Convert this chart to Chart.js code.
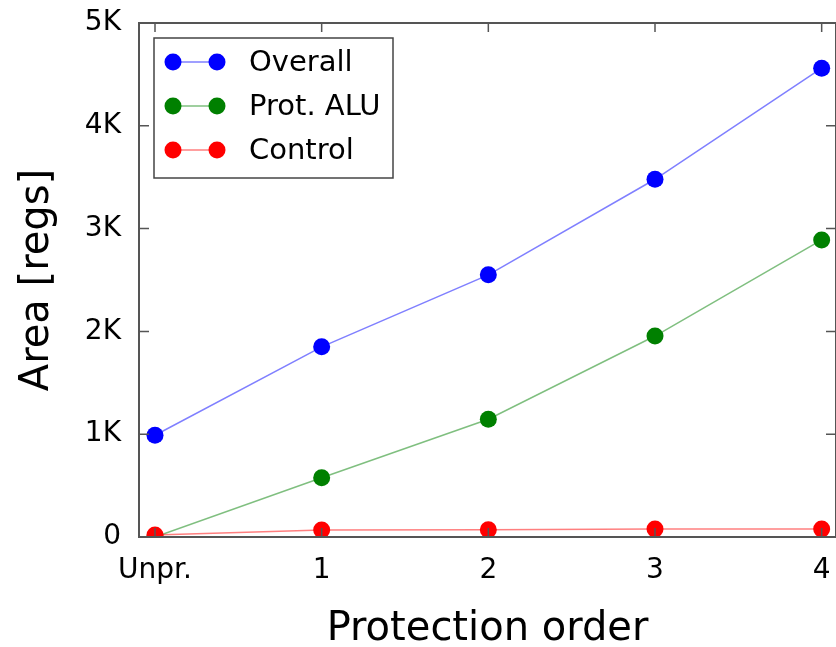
<!DOCTYPE html>
<html>
<head>
<meta charset="utf-8">
<script src="https://cdn.jsdelivr.net/npm/chart.js@4.4.0/dist/chart.umd.min.js"></script>
<style>
  html, body { margin: 0; padding: 0; background: #fff; }
  #wrap { width: 836px; height: 647px; }
</style>
</head>
<body>
<div id="wrap"><canvas id="areaChart"></canvas></div>
<script>
const orders = ["Unpr.", "1", "2", "3", "4"];
const overall = [990, 1850, 2550, 3480, 4560];
const protAlu = [0, 577, 1145, 1955, 2890];
const control = [20, 68, 70, 78, 78];
const yTicks = [0, 1000, 2000, 3000, 4000, 5000];

Chart.defaults.font.family = "'DejaVu Sans', sans-serif";
Chart.defaults.color = "#000";

function toPoints(arr) {
    return arr.map(function (v, i) { return { x: i, y: v }; });
}

// box with inward ticks on all four sides
const framePlugin = {
    id: 'frame',
    afterDatasetsDraw(chart) {
        const { ctx, chartArea: a, scales: { x, y } } = chart;
        ctx.save();
        ctx.strokeStyle = '#555';
        ctx.lineWidth = 2;
        ctx.strokeRect(a.left, a.top, a.right - a.left, a.bottom - a.top);
        ctx.lineWidth = 1.5;
        ctx.beginPath();
        orders.forEach(function (_, i) {
            const px = x.getPixelForValue(i);
            ctx.moveTo(px, a.bottom); ctx.lineTo(px, a.bottom - 9);
            ctx.moveTo(px, a.top); ctx.lineTo(px, a.top + 9);
        });
        yTicks.forEach(function (v) {
            const py = y.getPixelForValue(v);
            ctx.moveTo(a.left, py); ctx.lineTo(a.left + 10, py);
            ctx.moveTo(a.right, py); ctx.lineTo(a.right - 10, py);
        });
        ctx.stroke();
        ctx.restore();
    }
};

// legend drawn like the original: line with a dot at each end
const legendPlugin = {
    id: 'lineLegend',
    afterDraw(chart) {
        const { ctx, chartArea: a } = chart;
        const bx = a.left + 15, by = a.top + 15, bw = 239, bh = 140;
        ctx.save();
        ctx.fillStyle = '#fff';
        ctx.fillRect(bx, by, bw, bh);
        ctx.strokeStyle = '#444';
        ctx.lineWidth = 1.5;
        ctx.strokeRect(bx, by, bw, bh);
        chart.data.datasets.forEach(function (ds, i) {
            const ry = by + 24 + i * 44;
            const x1 = bx + 19, x2 = bx + 63;
            ctx.strokeStyle = ds.borderColor;
            ctx.lineWidth = 1.5;
            ctx.beginPath(); ctx.moveTo(x1, ry); ctx.lineTo(x2, ry); ctx.stroke();
            ctx.fillStyle = ds.pointBackgroundColor;
            [x1, x2].forEach(function (cx) {
                ctx.beginPath(); ctx.arc(cx, ry, 8.5, 0, Math.PI * 2); ctx.fill();
            });
            ctx.fillStyle = '#000';
            ctx.font = "29px 'DejaVu Sans'";
            ctx.textBaseline = 'middle';
            ctx.fillText(ds.label, bx + 95, ry + 1);
        });
        ctx.restore();
    }
};

function series(label, values, line, dot, order) {
    return {
        label: label,
        data: toPoints(values),
        borderColor: line,
        backgroundColor: dot,
        pointBackgroundColor: dot,
        pointBorderColor: dot,
        pointBorderWidth: 0,
        pointRadius: 8.5,
        borderWidth: 1.5,
        tension: 0,
        fill: false,
        clip: 0,
        order: order,
    };
}

new Chart(document.getElementById('areaChart'), {
    type: 'line',
    data: {
        datasets: [
            series('Overall', overall, 'rgba(0,0,255,0.5)', '#0000ff', 2),
            series('Prot. ALU', protAlu, 'rgba(0,128,0,0.5)', '#008000', 1),
            series('Control', control, 'rgba(255,0,0,0.5)', '#ff0000', 0),
        ],
    },
    options: {
        responsive: true,
        maintainAspectRatio: false,
        animation: false,
        layout: { autoPadding: false, padding: { top: 23, left: 0, right: 0, bottom: 0 } },
        plugins: {
            legend: { display: false },
            tooltip: { enabled: false },
        },
        scales: {
            x: {
                type: 'linear',
                min: -0.096,
                max: 4.086,
                grid: { display: false, drawTicks: false },
                border: { display: false },
                afterBuildTicks: function (s) {
                    s.ticks = orders.map(function (_, i) { return { value: i }; });
                },
                afterFit: function (s) {
                    s.height = 110;
                    s.paddingLeft = 0;
                    s.paddingRight = 0;
                },
                ticks: {
                    padding: 17,
                    maxRotation: 0,
                    font: { size: 28 },
                    callback: function (v) { return orders[v]; },
                },
                title: {
                    display: true,
                    text: 'Protection order',
                    font: { size: 40 },
                    padding: { top: 0, bottom: -7 },
                },
            },
            y: {
                min: 0,
                max: 5000,
                grid: { display: false, drawTicks: false },
                border: { display: false },
                afterBuildTicks: function (s) {
                    s.ticks = yTicks.map(function (v) { return { value: v }; });
                },
                afterFit: function (s) {
                    s.width = 139;
                    s.paddingTop = 0;
                    s.paddingBottom = 0;
                },
                ticks: {
                    padding: 18,
                    font: { size: 28 },
                    callback: function (v) { return v === 0 ? '0' : (v / 1000) + 'K'; },
                },
                title: {
                    display: true,
                    text: 'Area [regs]',
                    font: { size: 40 },
                    padding: { top: 14, bottom: 0 },
                },
            },
        },
    },
    plugins: [framePlugin, legendPlugin],
});
</script>
</body>
</html>
